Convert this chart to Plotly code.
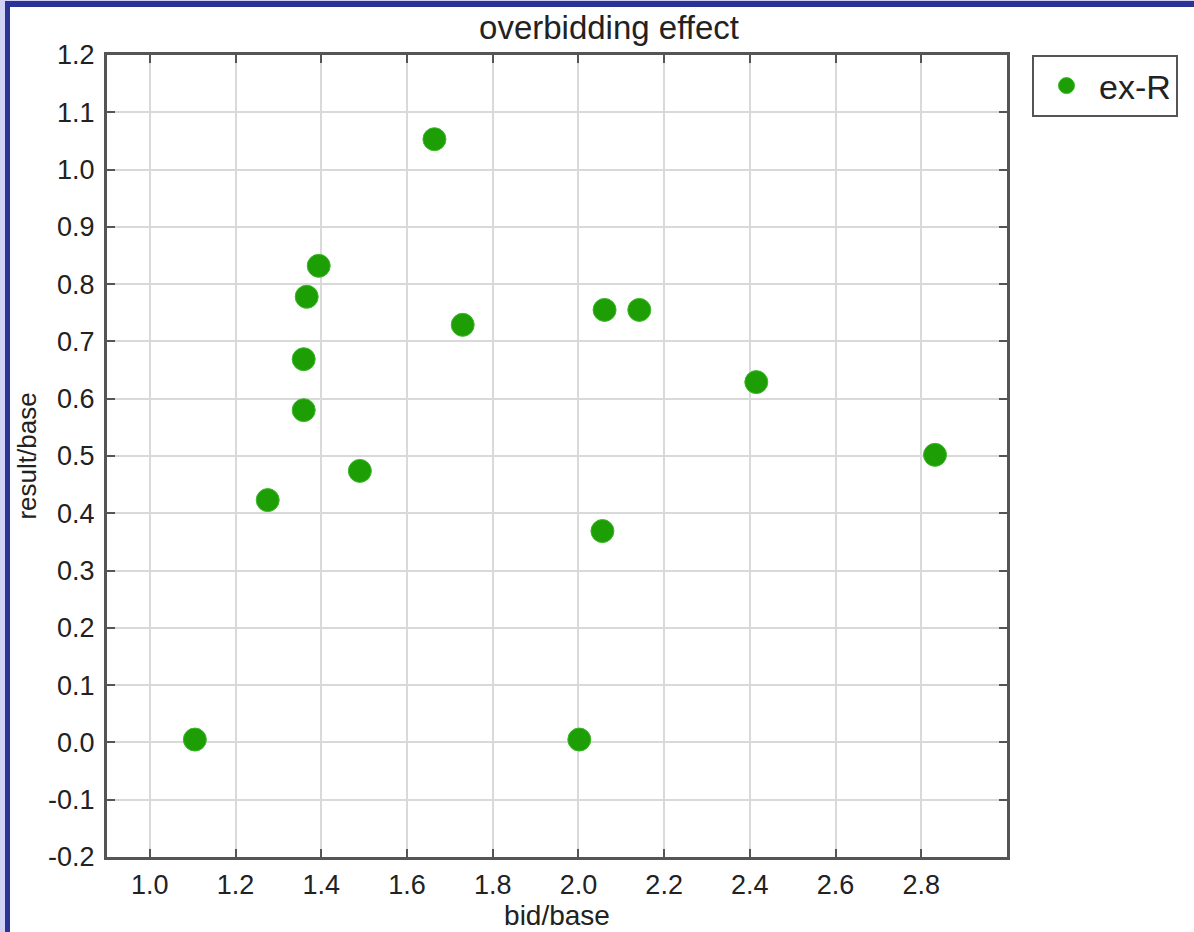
import plotly.graph_objects as go

# Data
bid_base = [1.105, 1.275, 1.359, 1.359, 1.366, 1.394, 1.490, 1.664, 1.730,
            2.002, 2.056, 2.061, 2.142, 2.415, 2.832]
result_base = [0.005, 0.423, 0.580, 0.669, 0.778, 0.832, 0.474, 1.053, 0.729,
               0.005, 0.369, 0.755, 0.755, 0.629, 0.502]
series_name = "ex-R"
x_ticks = [1.0, 1.2, 1.4, 1.6, 1.8, 2.0, 2.2, 2.4, 2.6, 2.8]
y_ticks = [-0.2, -0.1, 0.0, 0.1, 0.2, 0.3, 0.4, 0.5, 0.6, 0.7, 0.8, 0.9, 1.0, 1.1, 1.2]

W, H = 1194, 932
L, R, T, B = 107, 1007, 55, 857
pw, ph = R - L, B - T

def px(x):
    return (x - L) / pw

def py(y):
    return (B - y) / ph

FONT = "Liberation Sans, Arial, sans-serif"
TXT = "#222222"
AX = "#555555"
GRID = "#d9d9d9"

fig = go.Figure()
fig.add_trace(go.Scatter(
    x=bid_base, y=result_base, mode="markers", name=series_name,
    marker=dict(size=23, color="#1e9e05", line=dict(width=1, color="#3cb82a")),
))

axis_common = dict(
    showline=True, linewidth=3, linecolor=AX, mirror="ticks",
    ticks="inside", ticklen=8, tickwidth=2, tickcolor=AX,
    showgrid=True, gridcolor=GRID, gridwidth=2, zeroline=False,
    tickfont=dict(family=FONT, size=27, color=TXT),
)

fig.update_xaxes(
    range=[0.9, 3.0], tickvals=x_ticks, ticktext=[f"{v:.1f}" for v in x_ticks],
    title=dict(text="bid/base", font=dict(family=FONT, size=28, color=TXT), standoff=0),
    ticklabelstandoff=2,
    **axis_common,
)
fig.update_yaxes(
    range=[-0.2, 1.2], tickvals=y_ticks, ticktext=[f"{v:.1f}" for v in y_ticks],
    title=dict(text="result/base", font=dict(family=FONT, size=26, color=TXT), standoff=4),
    ticklabelstandoff=4,
    **axis_common,
)

shapes = [
    dict(type="rect", xref="paper", yref="paper", x0=px(0), x1=px(W), y0=py(0), y1=py(7),
         fillcolor="#2b3494", line=dict(width=0), layer="above"),
    dict(type="rect", xref="paper", yref="paper", x0=px(0), x1=px(10), y0=py(0), y1=py(H),
         fillcolor="#2b3494", line=dict(width=0), layer="above"),
    dict(type="rect", xref="paper", yref="paper", x0=px(0), x1=px(W), y0=py(0), y1=py(1),
         fillcolor="#d2d2f6", line=dict(width=0), layer="above"),
    dict(type="rect", xref="paper", yref="paper", x0=px(0), x1=px(5), y0=py(0), y1=py(H),
         fillcolor="#d2d2f6", line=dict(width=0), layer="above"),
]

fig.update_layout(
    width=W, height=H,
    margin=dict(l=L, r=W - R, t=T, b=H - B, autoexpand=False),
    paper_bgcolor="white", plot_bgcolor="white",
    title=dict(text="overbidding effect", x=px(609), xref="paper", xanchor="center",
               y=1 - 27 / H, yanchor="middle",
               font=dict(family=FONT, size=33, color=TXT)),
    showlegend=True,
    legend=dict(x=px(1032), xanchor="left", y=py(55), yanchor="top",
                bordercolor=AX, borderwidth=2, bgcolor="white",
                font=dict(family=FONT, size=34, color=TXT),
                itemsizing="trace", itemwidth=55,
                entrywidth=190, entrywidthmode="pixels"),
    shapes=shapes,
)

fig.write_html("out.html", config={"displayModeBar": False},
               post_script="document.body.style.margin='0';document.body.style.overflow='hidden';")
